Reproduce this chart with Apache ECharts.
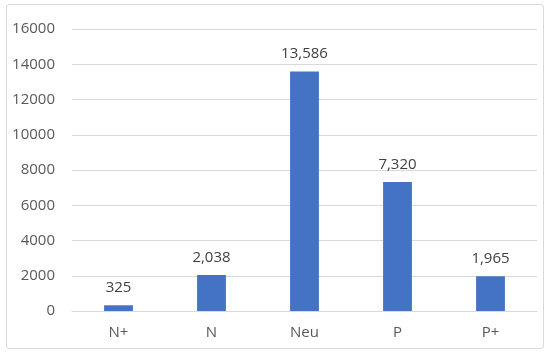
<!DOCTYPE html>
<html lang="en">
<head>
    <meta charset="UTF-8">
    <title>Chart</title>
    <script src="https://cdn.jsdelivr.net/npm/echarts@6/dist/echarts.min.js"></script>
    <style>
        * { margin: 0; padding: 0 }
        html, body { width: 100%; height: 100%; background: #fff; }
        #frame {
            position: absolute;
            left: 6px; top: 4px;
            width: 536px; height: 343px;
            border: 1px solid #d9d9d9;
            border-radius: 3px;
        }
        #main { width: 550px; height: 354px; position: absolute; left: 0; top: 0; }
    </style>
</head>
<body>
    <div id="frame"></div>
    <div id="main"></div>
<script type="text/javascript">
    var categories = ['N+', 'N', 'Neu', 'P', 'P+'];
    var values = [325, 2038, 13586, 7320, 1965];
    var yTicks = { min: 0, max: 16000, interval: 2000 };

    var chart = echarts.init(document.getElementById('main'));
    var font = '"Open Sans", "Noto Sans", sans-serif';
    chart.setOption({
        animation: false,
        grid: { left: 72, right: 13, top: 29, bottom: 43 },
        xAxis: {
            type: 'category',
            data: categories,
            axisLine: { lineStyle: { color: '#d9d9d9' } },
            axisTick: { show: false },
            axisLabel: { color: '#595959', fontSize: 15, fontFamily: font, margin: 14 }
        },
        yAxis: {
            type: 'value',
            min: yTicks.min, max: yTicks.max, interval: yTicks.interval,
            axisLine: { show: false },
            axisTick: { show: false },
            splitLine: { lineStyle: { color: '#d9d9d9' } },
            axisLabel: {
                color: '#595959', fontSize: 15, fontFamily: font, margin: 17,
                formatter: function (v) { return String(v); }
            }
        },
        series: [{
            type: 'bar',
            data: values,
            barWidth: '31%',
            itemStyle: { color: '#4472c4' },
            label: {
                show: true,
                position: 'top',
                distance: 10,
                color: '#404040',
                fontSize: 15,
                fontFamily: font,
                formatter: function (p) { return p.value.toLocaleString('en-US'); }
            }
        }]
    });
</script>
</body>
</html>
